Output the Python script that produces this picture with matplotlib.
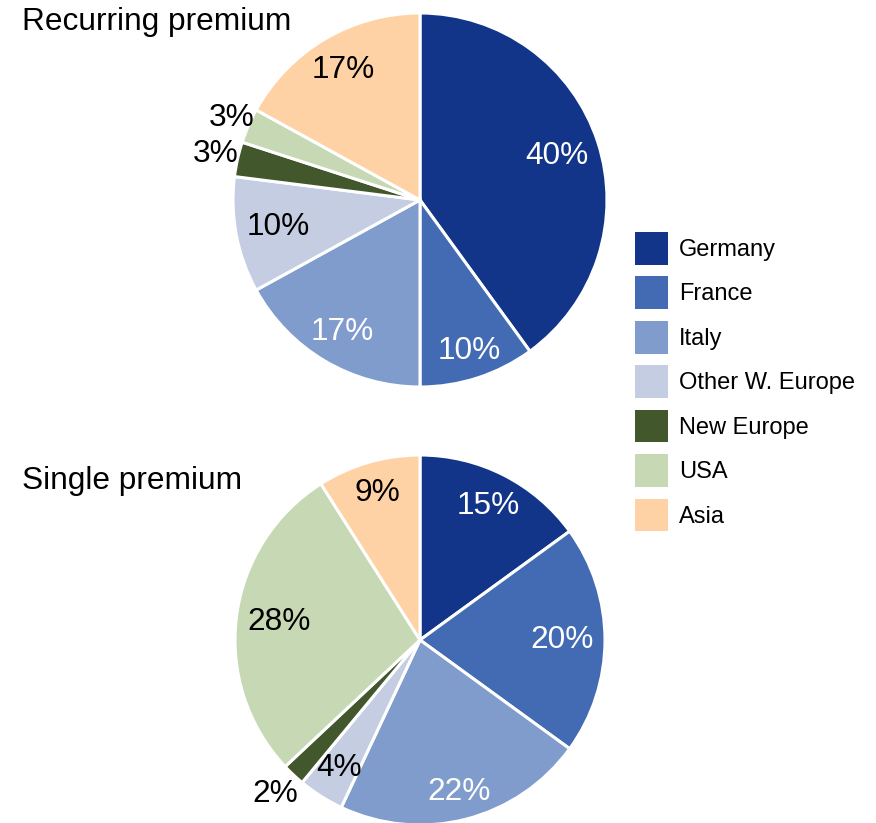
import numpy as np
import matplotlib.pyplot as plt
from matplotlib.patches import Patch

plt.rcParams['font.family'] = ['Liberation Sans', 'DejaVu Sans']

regions = ['Germany', 'France', 'Italy', 'Other W. Europe', 'New Europe', 'USA', 'Asia']
colors = ['#12358a', '#436bb3', '#7f9ccc', '#c5cde2', '#42572b', '#c6d9b4', '#fed2a4']
text_colors = ['white', 'white', 'white', 'black', 'black', 'black', 'black']

recurring = [40, 10, 17, 10, 3, 3, 17]
single = [15, 20, 22, 4, 2, 28, 9]

# label distance from centre (fraction of radius)
recurring_dist = [0.77, 0.85, 0.82, 0.77, 1.12, 1.10, 0.81]
single_dist = [0.81, 0.77, 0.85, 0.82, 1.14, 0.77, 0.83]

W, H = 876, 823
fig = plt.figure(figsize=(W / 100, H / 100), dpi=100)


def draw_pie(box, values, dists, title, title_xy):
    x0, y0, x1, y1 = box
    ax = fig.add_axes([x0 / W, 1 - y1 / H, (x1 - x0) / W, (y1 - y0) / H])
    wedges, _ = ax.pie(values, colors=colors, startangle=90, counterclock=False,
                       radius=1, wedgeprops=dict(edgecolor='white', linewidth=2.2))
    for w, v, d, tc in zip(wedges, values, dists, text_colors):
        ang = np.deg2rad((w.theta1 + w.theta2) / 2)
        ax.text(d * np.cos(ang), d * np.sin(ang), f'{v}%', ha='center', va='center',
                fontsize=22.8, color=tc)
    ax.set_xlim(-1, 1)
    ax.set_ylim(-1, 1)
    ax.set_aspect('equal')
    ax.axis('off')
    fig.text(title_xy[0] / W, 1 - title_xy[1] / H, title, fontsize=22.8,
             ha='left', va='center')


draw_pie((233, 13, 607, 387), recurring, recurring_dist, 'Recurring premium', (22, 22))
draw_pie((235, 455, 605, 825), single, single_dist, 'Single premium', (22, 481))

handles = [Patch(facecolor=c, edgecolor='none') for c in colors]
fig.legend(handles, regions, loc='upper left', bbox_to_anchor=(635 / W, 1 - 232 / H),
           frameon=False, fontsize=17, handlelength=1.4, handleheight=1.75,
           labelspacing=0.5, handletextpad=0.45, borderpad=0, borderaxespad=0)

fig.savefig('out.png', dpi=100)
